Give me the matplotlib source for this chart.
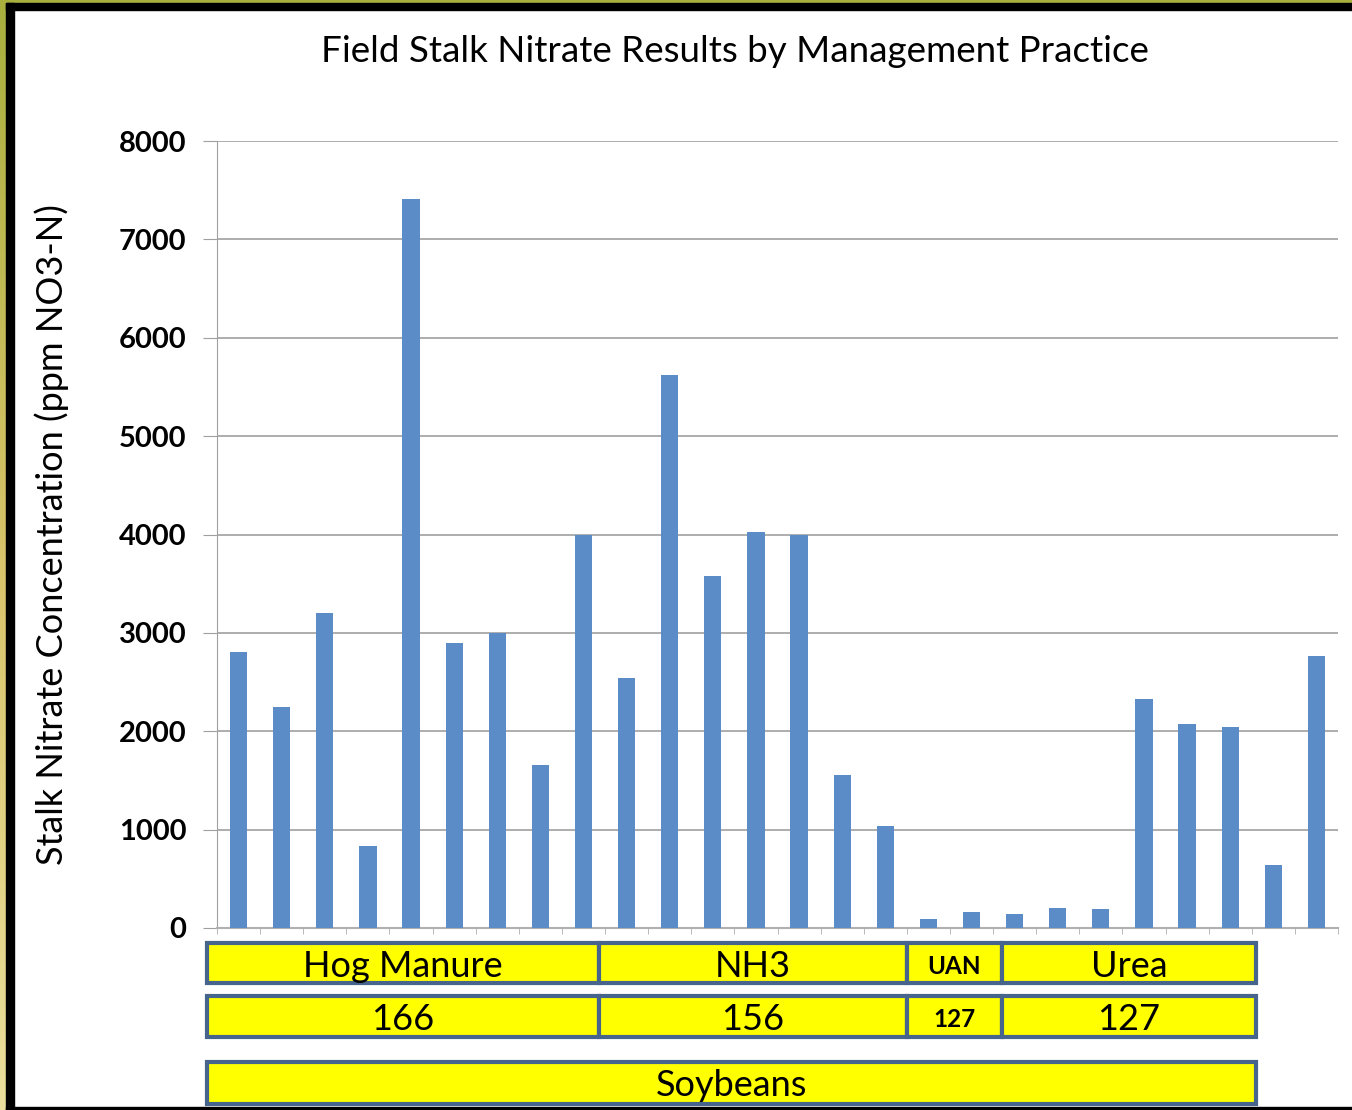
import matplotlib.pyplot as plt
from matplotlib.patches import Rectangle
from matplotlib.colors import LinearSegmentedColormap
import matplotlib.transforms as mtransforms
import numpy as np

# stalk nitrate per field (ppm NO3-N)
nitrate = [2810, 2250, 3200, 830, 7410, 2900, 3000, 1660, 4000,
           2540, 5620, 3580, 4030, 4000, 1560, 1040,
           90, 160, 140, 200, 190, 2330, 2070, 2040, 640, 2770]
y_ticks = [0, 1000, 2000, 3000, 4000, 5000, 6000, 7000, 8000]

# label rows under the axis: (text, start, end) in bar-index units
practice = [("Hog Manure", -0.73, 8.35), ("NH3", 8.35, 15.5),
            ("UAN", 15.5, 17.7), ("Urea", 17.7, 23.6)]
n_rate = [("166", -0.73, 8.35), ("156", 8.35, 15.5),
          ("127", 15.5, 17.7), ("127", 17.7, 23.6)]
prev_crop = [("Soybeans", -0.73, 23.6)]

plt.rcParams['font.family'] = ['Lato', 'DejaVu Sans']

fig = plt.figure(figsize=(13.52, 11.10), dpi=100)
W, H = 1352, 1110

# frame: gold gradient strip + black border
grad_ax = fig.add_axes([0, 0, 6 / W, 1])
grad = np.linspace(0, 1, 256).reshape(-1, 1)
cmap = LinearSegmentedColormap.from_list('gold', ['#a9b03e', '#d8c46a', '#eadf9c'])
grad_ax.imshow(grad, aspect='auto', cmap=cmap, extent=[0, 1, 1, 0])
grad_ax.axis('off')
fig.patches.append(Rectangle((0, 1 - 3 / H), 1, 3 / H, transform=fig.transFigure,
                             color='#a9b03e', zorder=0))
fig.patches.append(Rectangle((6 / W, 0), 8 / W, 1 - 3 / H, transform=fig.transFigure,
                             color='black', zorder=1))
fig.patches.append(Rectangle((6 / W, 1 - 10 / H), 1, 7 / H, transform=fig.transFigure,
                             color='black', zorder=1))
fig.patches.append(Rectangle((6 / W, 0), 1, 3 / H, transform=fig.transFigure,
                             color='black', zorder=1))

ax = fig.add_axes([217 / W, 182 / H, 1121 / W, 787 / H])
x = np.arange(len(nitrate))
ax.bar(x, nitrate, width=0.4, color='#5b8cc8', zorder=3)

ax.set_xlim(-0.5, len(nitrate) - 0.5)
ax.set_ylim(0, 8000)
ax.set_yticks(y_ticks)
ax.set_yticklabels([str(v) for v in y_ticks], fontsize=21, fontweight='bold')
ax.tick_params(axis='y', length=10, color='#a0a0a0', pad=12)
ax.set_xticks([])
ax.set_xticks(np.arange(len(nitrate) + 1) - 0.5, minor=True)
ax.tick_params(axis='x', which='minor', length=4, color='#b0b0b0')
ax.grid(axis='y', color='#a0a0a0', linewidth=1.2, zorder=0)
for s in ['top', 'right']:
    ax.spines[s].set_visible(False)
ax.spines['left'].set_color('#a0a0a0')
ax.spines['bottom'].set_color('#b0b0b0')
ax.spines['bottom'].set_linewidth(1.5)

ax.set_ylabel('Stalk Nitrate Concentration (ppm NO3-N)', fontsize=26, labelpad=36)

fig.text(735 / W, 1 - 51 / H, 'Field Stalk Nitrate Results by Management Practice',
         ha='center', va='center', fontsize=26.5)

trans = mtransforms.blended_transform_factory(ax.transData, ax.transAxes)


def box_row(items, y0, y1, sizes):
    for (label, a, b), (fs, fw) in zip(items, sizes):
        ax.add_patch(Rectangle((a, y0), b - a, y1 - y0, transform=trans,
                               facecolor='#ffff00', edgecolor='#46648c',
                               linewidth=3, clip_on=False, zorder=5))
        ax.text((a + b) / 2, (y0 + y1) / 2 - 0.004, label, transform=trans,
                ha='center', va='center', fontsize=fs, fontweight=fw,
                clip_on=False, zorder=6)


big = (26, 'normal')
small = (17.5, 'bold')
box_row(practice, -0.070, -0.019, [big, big, small, big])
box_row(n_rate, -0.139, -0.086, [big, big, small, big])
box_row(prev_crop, -0.223, -0.170, [big])

fig.savefig('out.png', dpi=100, facecolor='white')
